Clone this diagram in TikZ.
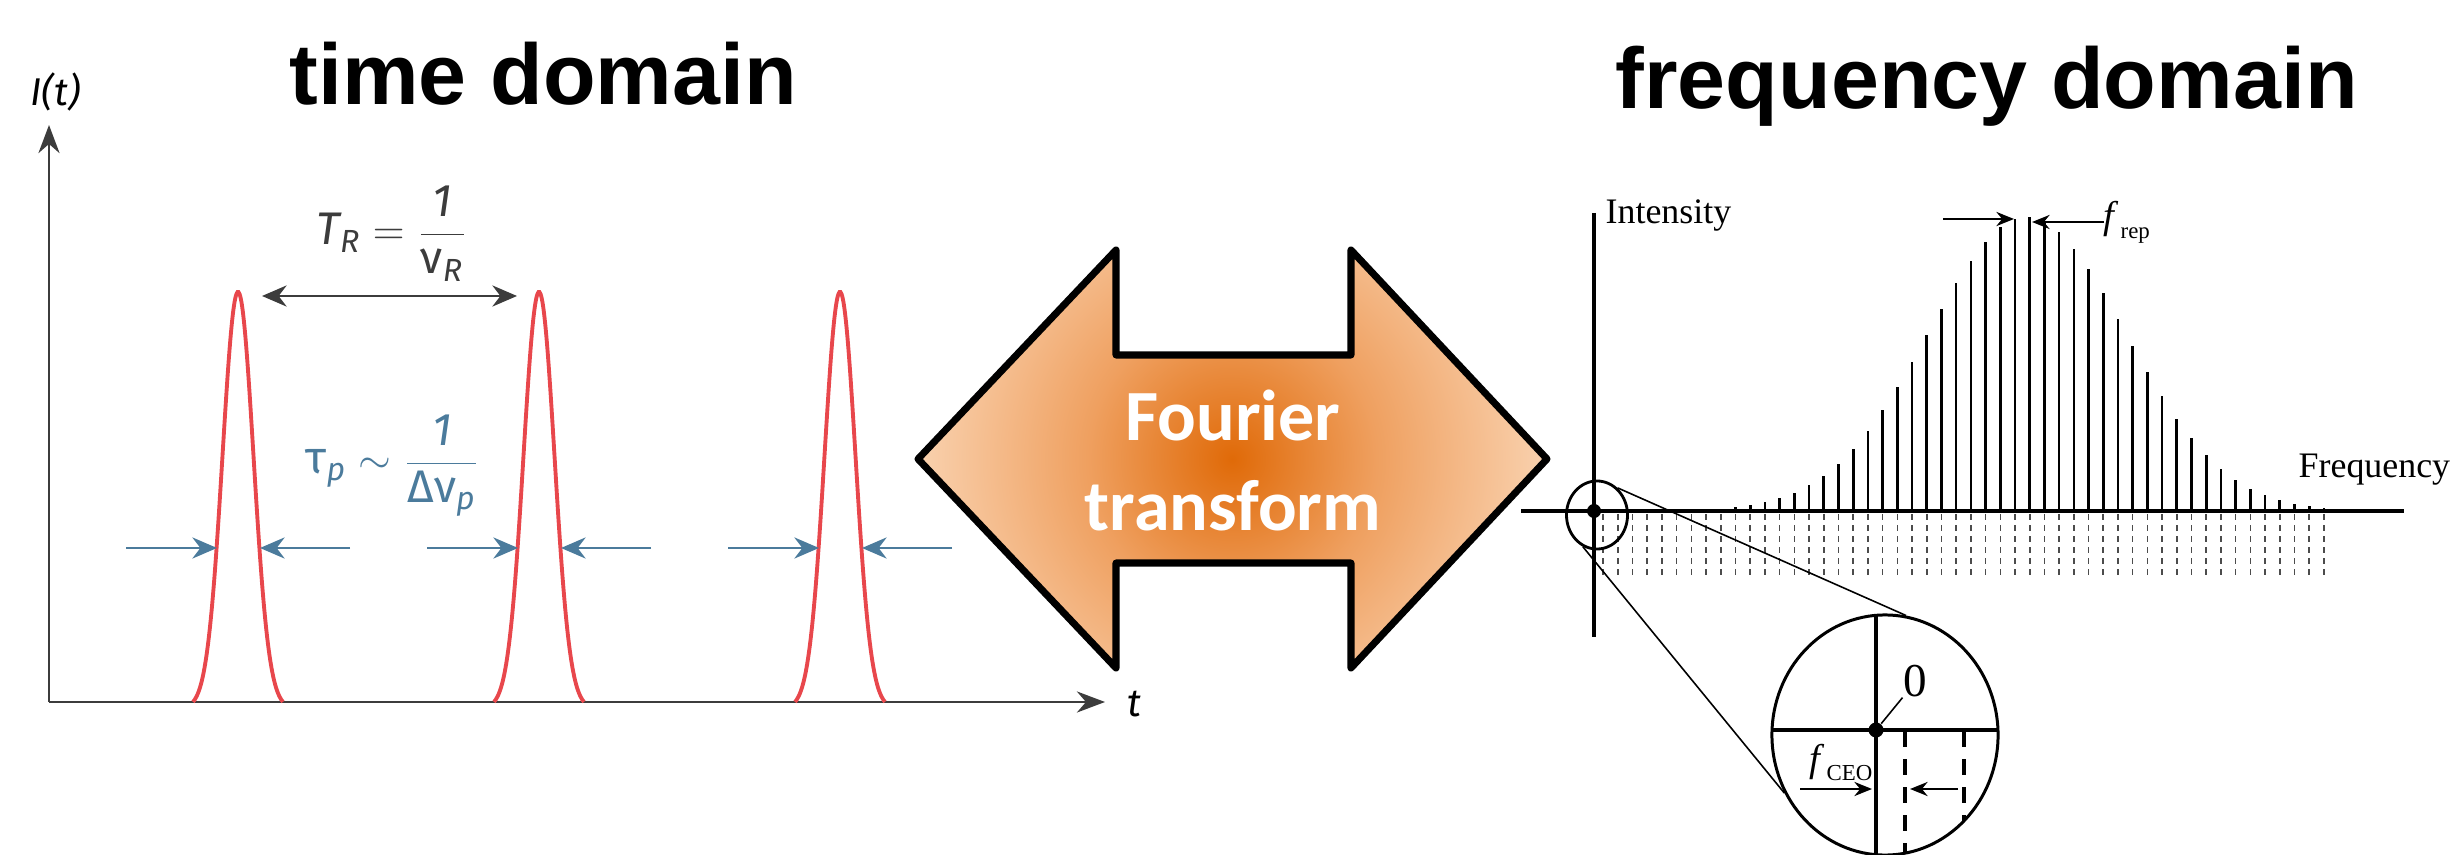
\documentclass[tikz,border=0pt]{standalone}
\usepackage{amsmath}
\usepackage{fontspec}
\setmainfont{Liberation Serif}
\newfontfamily\titlefont{Liberation Sans}
\newfontfamily\calfont{Carlito}
\newfontfamily\plotfont{Fira Sans}
\usetikzlibrary{arrows.meta,shapes.geometric}

\definecolor{pulsered}{HTML}{E8474C}
\definecolor{fwhmblue}{HTML}{4B7B9C}
\definecolor{axisgray}{HTML}{3C3C3C}
\definecolor{glowcore}{HTML}{E06A08}
\definecolor{glowmid}{HTML}{EFA060}
\definecolor{glowedge}{HTML}{FAD6B6}

\pgfdeclareradialshading{fourierglow}{\pgfpoint{0bp}{0bp}}{color(0bp)=(glowcore); color(11bp)=(glowmid); color(25bp)=(glowedge); color(50bp)=(glowedge)}

% f with a small upright index
\newcommand{\fsub}[1]{\textit{f}\kern0.5pt\raisebox{-0.55ex}{\fontsize{6.5}{7}\selectfont #1}}
% outline of the double arrow
\newcommand{\fourierarrow}{(918,459) -- (1116,250) -- (1116,355) -- (1351,355) -- (1351,250) -- (1547,459) -- (1351,668) -- (1351,563) -- (1116,563) -- (1116,668) -- cycle}

\begin{document}
\begin{tikzpicture}[
            x=0.01cm, y=-0.01cm,
            declare function={ pulse(\x) = 416*exp(-(\x)^2/480) - 6;
                               comb(\k) = 294*exp(-(\k-28.8)^2/89.8);},
            axis/.style={axisgray, line width=0.7pt},
            fwhm/.style={fwhmblue, line width=0.85pt, -{Stealth[length=7pt, width=6pt]}},
            plotlabel/.style={inner sep=0pt, font=\plotfont\itshape\fontsize{11}{13}\selectfont},
            titletext/.style={inner sep=0pt, font=\titlefont\bfseries\fontsize{24.5}{29}\selectfont},
            serif/.style={inner sep=0pt, font=\fontsize{10.2}{12}\selectfont},
            dot/.style={circle, fill, inner sep=0pt, minimum size=0.14cm},
            smallarrow/.style={line width=0.75pt, -{Stealth[length=5pt, width=4pt]}},
            zoomline/.style={line width=0.45pt}
                           ]
            \useasboundingbox (0,0) rectangle (2451,855);

            % 1. Time domain: axes and titles
            \draw[axis, -{Stealth[length=8pt, width=6pt]}] (49,702) -- (49,125);
            \draw[axis, -{Stealth[length=8pt, width=6pt]}] (49,702) -- (1105,702);
            \node[plotlabel, anchor=base west] (ilabel) at (30,106) {I(t)};
            \node[plotlabel, anchor=base west] (tlabel) at (1127,716) {t};
            \node[titletext, anchor=base west] (timetitle) at (289,105) {time domain};

            % 2. The pulse train
            \foreach \c in {238,539,840} {
                \draw[pulsered, line width=1.1pt] plot[domain=-45:45, samples=90, smooth] ({\c+\x}, {702-pulse(\x)});
                \draw[fwhm] (\c-112,548) -- (\c-21,548);
                \draw[fwhm] (\c+112,548) -- (\c+22,548);
            }
            \draw[axisgray, line width=0.75pt, {Stealth[length=7pt, width=6pt]}-{Stealth[length=7pt, width=6pt]}] (262,296) -- (517,296);
            \node[inner sep=0pt, anchor=base west, axisgray, font=\plotfont\fontsize{13}{15}\selectfont] (trep)
                at (316,245) {$\text{\itshape T}_{\text{\itshape R}} = \dfrac{\text{\itshape 1}}{\text{ν}_{\text{\itshape R}}}$};
            \node[inner sep=0pt, anchor=base west, fwhmblue, font=\plotfont\fontsize{13}{15}\selectfont] (tpulse)
                at (305,474) {$\text{τ}_{\text{\itshape p}} \sim \dfrac{\text{\itshape 1}}{\text{Δν}_{\text{\itshape p}}}$};

            % 3. The Fourier double arrow
            \begin{scope}
                \clip \fourierarrow;
                \shade[shading=fourierglow] (1232,459) circle[radius=330];
            \end{scope}
            \draw[line width=2pt, line join=round] \fourierarrow;
            \node[white, align=center, font=\calfont\bfseries\fontsize{20.5}{25.6}\selectfont] (fourier) at (1233,460) {Fourier\\transform};

            % 4. Frequency domain: the comb
            \foreach \i in {0,...,49} {
                \pgfmathsetmacro{\xx}{1603.1+14.71*\i}
                \pgfmathsetmacro{\hh}{comb(\i)}
                \draw[line width=0.75pt] (\xx,511) -- (\xx,511-\hh);
                \draw[black!70, line width=0.45pt, dash pattern=on 0.06cm off 0.05cm] (\xx,514) -- (\xx,578);
            }
            \draw[line width=1pt] (1594,213) -- (1594,637);
            \draw[line width=1.3pt] (1521,511) -- (2404,511);
            \node[serif, anchor=base west] (intensity) at (1605,224) {Intensity};
            \node[serif, anchor=base west] (frequency) at (2298,478) {Frequency};
            \node[titletext, anchor=base west] (freqtitle) at (1615,109) {frequency domain};

            % 5. Spacing of the comb lines
            \draw[smallarrow] (1943,219) -- (2014,219);
            \draw[smallarrow] (2104,222) -- (2032,222);
            \node[serif, anchor=base west, font=\fontsize{11}{13}\selectfont] (freplabel) at (2103,229) {\fsub{rep}};

            % 6. Zoom on the origin
            \node[ellipse, draw, line width=0.8pt, minimum width=0.61cm, minimum height=0.68cm, inner sep=0pt] (smallzoom) at (1597,515) {};
            \node[dot] (origin) at (1594,511) {};
            \node[ellipse, draw, line width=0.85pt, minimum width=2.26cm, minimum height=2.40cm, inner sep=0pt] (bigzoom) at (1885,735) {};
            \begin{scope}
                \clip (1885,735) ellipse [x radius=113, y radius=120];
                \draw[line width=1pt] (1760,730) -- (2010,730);
                \draw[line width=1pt] (1876,600) -- (1876,870);
                \draw[line width=1pt, dash pattern=on 0.16cm off 0.12cm] (1905,731) -- (1905,870);
                \draw[line width=1pt, dash pattern=on 0.16cm off 0.12cm] (1964,731) -- (1964,870);
            \end{scope}
            \node[dot, minimum size=0.15cm] (ceoorigin) at (1876,730) {};
            \node[inner sep=0pt, font=\fontsize{13.4}{15}\selectfont] (zero) at (1915,681) {0};
            \draw[zoomline] (zero.south west) -- (ceoorigin);
            \draw[smallarrow] (1800,789) -- (1872,789);
            \draw[smallarrow] (1958,789) -- (1910,789);
            \node[serif, anchor=base east, font=\fontsize{11}{13}\selectfont] (ceolabel) at (1873,771) {\fsub{CEO}};
            \draw[zoomline] (smallzoom.53) -- (bigzoom.80);
            \draw[zoomline] (smallzoom.246) -- (bigzoom.210);

        \end{tikzpicture}
\end{document}
